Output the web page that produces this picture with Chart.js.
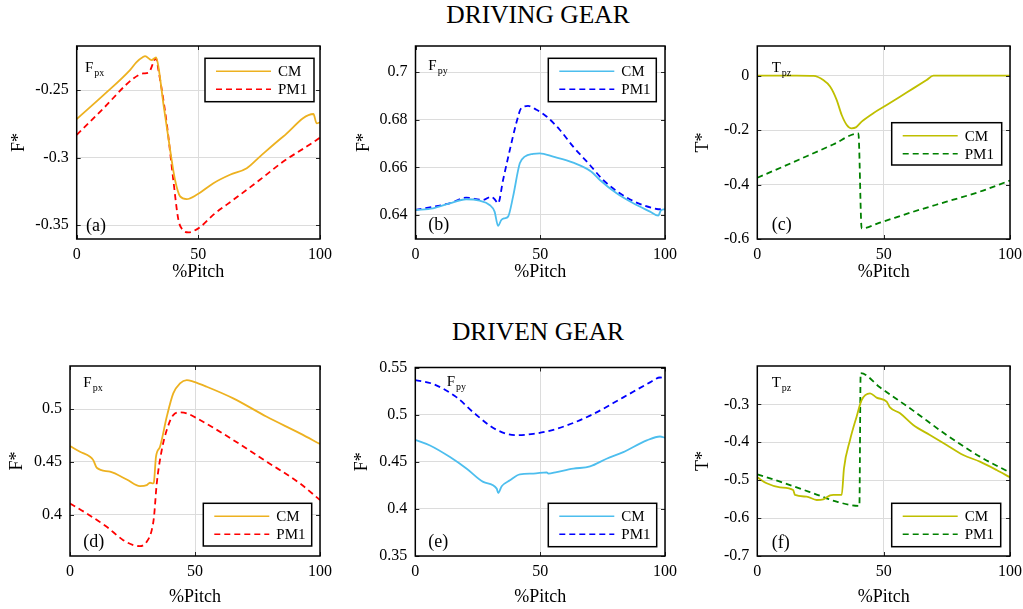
<!DOCTYPE html>
<html><head><meta charset="utf-8">
<script src="https://cdn.jsdelivr.net/npm/chart.js@4.4.1/dist/chart.umd.min.js"></script>
<style>
html,body{margin:0;padding:0;background:#fff;width:1023px;height:609px;overflow:hidden;position:relative;font-family:"Liberation Serif","Times New Roman",serif;}
canvas{position:absolute;}
.ttl{position:absolute;left:338px;width:400px;text-align:center;font-size:25.5px;line-height:25.5px;color:#000;white-space:nowrap;}
</style>
</head>
<body>
<div class="ttl" style="top:2px">DRIVING GEAR</div>
<div class="ttl" style="top:319px">DRIVEN GEAR</div>
<script>
// ---------- data ----------
const seriesNames = ['CM', 'PM1'];
const pitchTicks = [0, 50, 100];

// (a) driving gear Fpx
const aCM_x = [0, 11, 21.9, 24.5, 27.4, 28.1, 30.8, 32.6, 33.6, 35.6, 38.4, 40.4, 42.5, 45.2, 49.3, 56.2, 63.0, 69.9, 75.3, 84.9, 97.3, 98.6, 100];
const aCM_y = [-0.2714, -0.2537, -0.2352, -0.2295, -0.2254, -0.2249, -0.2278, -0.2259, -0.2328, -0.2598, -0.2943, -0.3164, -0.3287, -0.3307, -0.3275, -0.3189, -0.3127, -0.3078, -0.2992, -0.2844, -0.2677, -0.2746, -0.2739];
const aPM_x = [0, 11, 23.3, 27.4, 29.5, 32.6, 33.6, 37, 39.7, 41.8, 43.8, 45.9, 50.7, 56.2, 64.4, 75.3, 84.9, 94.5, 100];
const aPM_y = [-0.2832, -0.2635, -0.2414, -0.2377, -0.2372, -0.2266, -0.2352, -0.2746, -0.3164, -0.346, -0.3538, -0.3553, -0.3514, -0.3422, -0.3312, -0.3164, -0.3029, -0.2918, -0.2852];

// (b) driving gear Fpy
const bCM_x = [0, 7, 13.7, 20.3, 25.7, 29.7, 31.7, 33.1, 34.4, 35.7, 37.1, 39.1, 41.8, 43.8, 47.1, 49.8, 55.2, 63.2, 70.5, 73.9, 80.6, 87.3, 94, 97.3, 98.3, 100];
const bCM_y = [0.6421, 0.6428, 0.6449, 0.6466, 0.646, 0.6442, 0.6414, 0.6354, 0.6379, 0.6386, 0.6393, 0.6477, 0.6617, 0.6645, 0.6657, 0.6659, 0.6645, 0.662, 0.6582, 0.6547, 0.6491, 0.6449, 0.6414, 0.6397, 0.6418, 0.6424];
const bPM_x = [0, 13.7, 20.3, 27, 30.4, 31.7, 33.1, 35.1, 37.8, 40.4, 42.4, 45.1, 48.5, 52.5, 57.8, 63.2, 69.9, 75.2, 81.9, 88.6, 95.3, 97.3, 100];
const bPM_y = [0.6421, 0.6449, 0.6473, 0.6463, 0.6477, 0.6466, 0.6449, 0.6547, 0.6673, 0.6786, 0.6849, 0.6858, 0.6842, 0.6814, 0.6758, 0.6687, 0.661, 0.6547, 0.6491, 0.6452, 0.6428, 0.6424, 0.6428];

// (c) driving gear Tpz
const cCM_x = [0, 15.6, 22.2, 26.1, 28.8, 31.4, 33.4, 35.4, 37.3, 39, 41.3, 45.9, 51.2, 59.1, 67, 69.7, 100];
const cCM_y = [0, 0, -0.001, -0.016, -0.040, -0.089, -0.1445, -0.181, -0.1935, -0.190, -0.169, -0.138, -0.108, -0.062, -0.016, 0, 0];
const cPM_x = [0, 10, 20, 30, 40, 41.3, 48.5, 61.7, 74.9, 88.1, 100];
const cPM_y = [-0.375, -0.335, -0.294, -0.253, -0.212, -0.561, -0.540, -0.500, -0.463, -0.426, -0.385];

// (d) driven gear Fpx
const dCM_x = [0, 4, 8, 9.3, 10.7, 16, 22.7, 28, 30.7, 32, 33.3, 33.6, 34.4, 36, 38.7, 41.3, 44, 46.7, 49.3, 54.7, 65.3, 78.7, 92, 100];
const dCM_y = [0.465, 0.4596, 0.4549, 0.4517, 0.4445, 0.4407, 0.4334, 0.4271, 0.428, 0.4303, 0.4296, 0.4312, 0.4549, 0.4643, 0.4927, 0.5148, 0.5243, 0.5274, 0.5259, 0.5211, 0.5101, 0.4927, 0.477, 0.4669];
const dPM_x = [0, 6.7, 14.7, 21.3, 25.3, 28, 30.7, 32.7, 33.6, 34.7, 36.7, 38.7, 41.3, 44, 46.7, 52, 65.3, 78.7, 92, 100];
const dPM_y = [0.4107, 0.4012, 0.3886, 0.376, 0.3713, 0.3703, 0.3744, 0.3855, 0.3981, 0.4296, 0.4612, 0.4801, 0.4943, 0.4968, 0.4959, 0.4896, 0.4707, 0.4502, 0.4296, 0.4139];

// (e) driven gear Fpy
const eCM_x = [0, 5.9, 13.9, 20.6, 27.2, 32.6, 33.2, 34.6, 37.9, 41.9, 47.3, 52.6, 53.3, 56.6, 63.3, 70, 76.6, 83.3, 92.7, 98, 100];
const eCM_y = [0.4733, 0.4673, 0.455, 0.4426, 0.4286, 0.4215, 0.4169, 0.424, 0.4303, 0.4367, 0.4374, 0.4388, 0.4374, 0.4391, 0.4426, 0.4451, 0.4532, 0.4602, 0.4726, 0.4768, 0.4754];
const ePM_x = [0, 7.2, 16.6, 23.2, 32.6, 40.6, 47.3, 56.6, 70, 83.3, 94, 98, 100];
const ePM_y = [0.5366, 0.5324, 0.5183, 0.5025, 0.4838, 0.4782, 0.4796, 0.4849, 0.499, 0.5183, 0.5342, 0.5394, 0.5387];

// (f) driven gear Tpz
const fCM_x = [0, 3.7, 9, 14.2, 14.9, 19.5, 23.5, 26.1, 28.8, 30.1, 33.4, 34.3, 36.7, 39.3, 41.3, 44.6, 47.2, 51.2, 52.5, 56.5, 61.7, 68.3, 74.9, 81.5, 88.1, 94.7, 100];
const fCM_y = [-0.4925, -0.5083, -0.5189, -0.526, -0.539, -0.5435, -0.5523, -0.5505, -0.540, -0.539, -0.539, -0.4688, -0.394, -0.3325, -0.2886, -0.271, -0.2824, -0.293, -0.308, -0.3237, -0.3545, -0.3809, -0.4072, -0.4336, -0.4512, -0.4732, -0.4925];
const fPM_x = [0, 9, 22.2, 31.4, 40.4, 40.9, 48.5, 61.7, 74.9, 88.1, 100];
const fPM_y = [-0.4846, -0.504, -0.5347, -0.5567, -0.568, -0.218, -0.2552, -0.3167, -0.3809, -0.438, -0.480];

// y tick labels
const ticksA = [-0.35, -0.3, -0.25];
const ticksB = [0.64, 0.66, 0.68, 0.7];
const ticksC = [-0.6, -0.4, -0.2, 0];
const ticksD = [0.4, 0.45, 0.5];
const ticksE = [0.35, 0.4, 0.45, 0.5, 0.55];
const ticksF = [-0.7, -0.6, -0.5, -0.4, -0.3];

// ---------- layout / styles ----------
const FONT = '"Liberation Serif", "Times New Roman", serif';
const panels = [
  {col:0,row:0,L:76.7,R:320,T:46,B:239,ymin:-0.3602,ymax:-0.2174,ticks:ticksA,ytitle:'F*',ytX:19,cm:[aCM_x,aCM_y],pm:[aPM_x,aPM_y],colors:['#EDB120','#FF0000'],sym:['F','px'],symX:85,symY:71.5,tag:'(a)',tagX:86,tagY:226,leg:[205,58.3,109,43.4]},
  {col:1,row:0,L:415.5,R:665,T:46,B:239,ymin:0.6299,ymax:0.711,ticks:ticksB,ytitle:'F*',ytX:364,cm:[bCM_x,bCM_y],pm:[bPM_x,bPM_y],colors:['#4DBEEE','#0000FF'],sym:['F','py'],symX:428.3,symY:70,tag:'(b)',tagX:428.3,tagY:225,leg:[548.3,58.3,108,43.4]},
  {col:2,row:0,L:757.3,R:1010,T:46,B:239,ymin:-0.6,ymax:0.109,ticks:ticksC,ytitle:'T*',ytX:703,cm:[cCM_x,cCM_y],pm:[cPM_x,cPM_y],colors:['#BFBF00','#008000'],sym:['T','pz'],symX:771.7,symY:71.7,tag:'(c)',tagX:771.7,tagY:225,leg:[891.7,122.7,110,42.3]},
  {col:0,row:1,L:70,R:320,T:366,B:556,ymin:0.361,ymax:0.5407,ticks:ticksD,ytitle:'F*',ytX:17,cm:[dCM_x,dCM_y],pm:[dPM_x,dPM_y],colors:['#EDB120','#FF0000'],sym:['F','px'],symX:83.3,symY:386.7,tag:'(d)',tagX:83.3,tagY:542.7,leg:[203.3,503.3,108.4,42.7]},
  {col:1,row:1,L:415.3,R:665,T:367.5,B:556,ymin:0.35,ymax:0.55,ticks:ticksE,ytitle:'F*',ytX:362,cm:[eCM_x,eCM_y],pm:[ePM_x,ePM_y],colors:['#4DBEEE','#0000FF'],sym:['F','py'],symX:446.7,symY:386,tag:'(e)',tagX:428.3,tagY:542.7,leg:[548.3,503.3,108.4,43.4]},
  {col:2,row:1,L:757.3,R:1010,T:366,B:556,ymin:-0.7,ymax:-0.199,ticks:ticksF,ytitle:'T*',ytX:703,cm:[fCM_x,fCM_y],pm:[fPM_x,fPM_y],colors:['#BFBF00','#008000'],sym:['T','pz'],symX:771.7,symY:387.3,tag:'(f)',tagX:771.7,tagY:543,leg:[891.7,503.3,109,43.4]}
];
const colLeft = [0, 340, 680], colW = [340, 340, 343];
const rowTop = [30, 345], rowH = [260, 264];
const xTitleCenter = [272, 597];
const TITLE_SIZE = 18, TICK_SIZE = 16;
const halfLH = TITLE_SIZE * 1.2 / 2;

const deco = {
  id: 'deco',
  afterDatasetsDraw(chart, args, o) {
    const ctx = chart.ctx, a = chart.chartArea;
    const ox = o.ox, oy = o.oy;
    const xs = chart.scales.x, ys = chart.scales.y;
    ctx.save();
    ctx.strokeStyle = '#262626'; ctx.lineWidth = 1; ctx.setLineDash([]);
    ctx.beginPath();
    xs.ticks.forEach(t => {
      const px = Math.round(xs.getPixelForValue(t.value)) + 0.5;
      ctx.moveTo(px, a.bottom); ctx.lineTo(px, a.bottom - 4);
      ctx.moveTo(px, a.top); ctx.lineTo(px, a.top + 4);
    });
    ys.ticks.forEach(t => {
      const py = Math.round(ys.getPixelForValue(t.value)) + 0.5;
      ctx.moveTo(a.left, py); ctx.lineTo(a.left + 4, py);
      ctx.moveTo(a.right, py); ctx.lineTo(a.right - 4, py);
    });
    ctx.stroke();
    ctx.lineWidth = 1.5; ctx.strokeStyle = '#000';
    ctx.strokeRect(a.left, a.top, a.right - a.left, a.bottom - a.top);
    // panel symbol
    ctx.fillStyle = '#000'; ctx.textAlign = 'left'; ctx.textBaseline = 'alphabetic';
    ctx.font = '15px ' + FONT;
    ctx.fillText(o.sym[0], o.symX - ox, o.symY - oy);
    const w = ctx.measureText(o.sym[0]).width;
    ctx.font = '10px ' + FONT;
    ctx.fillText(o.sym[1], o.symX - ox + w + 1, o.symY - oy + 4);
    // tag
    ctx.font = '18px ' + FONT; ctx.textBaseline = 'middle';
    ctx.fillText(o.tag, o.tagX - ox, o.tagY - oy);
    // legend
    const [lx, ly, lw, lh] = o.leg; const x0 = lx - ox, y0 = ly - oy;
    ctx.fillStyle = '#fff'; ctx.fillRect(x0, y0, lw, lh);
    ctx.lineWidth = 1.5; ctx.strokeStyle = '#000'; ctx.strokeRect(x0, y0, lw, lh);
    chart.data.datasets.forEach((ds, i) => {
      const yy = y0 + 13 + i * 18;
      ctx.beginPath(); ctx.setLineDash(ds.borderDash || []);
      ctx.strokeStyle = ds.borderColor; ctx.lineWidth = 1.5;
      ctx.moveTo(x0 + 11, yy); ctx.lineTo(x0 + 66, yy); ctx.stroke();
      ctx.setLineDash([]);
      ctx.fillStyle = '#000'; ctx.font = '15px ' + FONT; ctx.textBaseline = 'middle';
      ctx.fillText(ds.label, x0 + 73, yy + 1);
    });
    ctx.restore();
  }
};

function pts(xs, ys) { return xs.map((x, i) => ({x: x, y: ys[i]})); }

panels.forEach(p => {
  const cl = colLeft[p.col], cw = colW[p.col], rt = rowTop[p.row], rh = rowH[p.row];
  const cv = document.createElement('canvas');
  cv.width = cw; cv.height = rh;
  cv.style.left = cl + 'px'; cv.style.top = rt + 'px';
  cv.style.width = cw + 'px'; cv.style.height = rh + 'px';
  document.body.appendChild(cv);
  const yW = p.L - cl, padTop = p.T - rt, padRight = cl + cw - p.R, xH = rt + rh - p.B;
  const xPadB = rt + rh - xTitleCenter[p.row] - halfLH;
  const yPadT = p.ytX - cl - halfLH;
  new Chart(cv, {
    type: 'line',
    data: {datasets: [
      {label: seriesNames[0], data: pts(p.cm[0], p.cm[1]), borderColor: p.colors[0], borderWidth: 1.8, pointRadius: 0, cubicInterpolationMode: 'monotone', fill: false},
      {label: seriesNames[1], data: pts(p.pm[0], p.pm[1]), borderColor: p.colors[1], borderWidth: 1.8, borderDash: [6, 4], pointRadius: 0, cubicInterpolationMode: 'monotone', fill: false}
    ]},
    options: {
      responsive: false, animation: false, devicePixelRatio: 1,
      layout: {padding: {left: 0, top: padTop, right: padRight, bottom: 0}},
      plugins: {legend: {display: false}, tooltip: {enabled: false},
        deco: {ox: cl, oy: rt, sym: p.sym, symX: p.symX, symY: p.symY, tag: p.tag, tagX: p.tagX, tagY: p.tagY, leg: p.leg}},
      scales: {
        x: {type: 'linear', min: 0, max: 100,
          afterBuildTicks: s => { s.ticks = pitchTicks.map(v => ({value: v})); },
          afterFit: s => { s.height = xH; s.paddingLeft = 0; s.paddingRight = 0; },
          grid: {color: '#dcdcdc', lineWidth: 1, drawTicks: false}, border: {display: false},
          ticks: {padding: 6, color: '#000', font: {family: FONT, size: TICK_SIZE}, maxRotation: 0, autoSkip: false},
          title: {display: true, text: '%Pitch', color: '#000', font: {family: FONT, size: TITLE_SIZE}, padding: {top: 0, bottom: xPadB}}
        },
        y: {type: 'linear', min: p.ymin, max: p.ymax,
          afterBuildTicks: s => { s.ticks = p.ticks.map(v => ({value: v})); },
          afterFit: s => { s.width = yW; s.paddingTop = 0; s.paddingBottom = 0; },
          grid: {color: '#dcdcdc', lineWidth: 1, drawTicks: false}, border: {display: false},
          ticks: {padding: 8, color: '#000', font: {family: FONT, size: TICK_SIZE}, callback: v => String(+(+v).toFixed(3))},
          title: {display: true, text: p.ytitle, color: '#000', font: {family: FONT, size: TITLE_SIZE}, padding: {top: yPadT, bottom: 0}}
        }
      }
    },
    plugins: [deco]
  });
});
</script>
</body></html>
